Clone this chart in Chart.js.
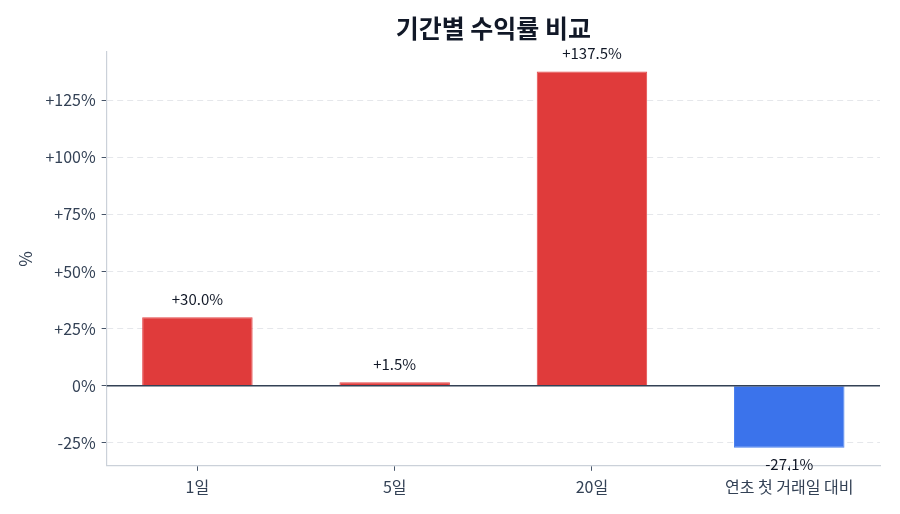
<!DOCTYPE html>
<html>
<head>
<meta charset="utf-8">
<script src="https://cdn.jsdelivr.net/npm/chart.js@4"></script>
<style>
  html, body { margin: 0; padding: 0; background: #fff; }
  .wrap { width: 900px; height: 514px; }
</style>
</head>
<body>
<div class="wrap"><canvas id="returnChart" width="900" height="514"></canvas></div>
<script>
const categories = ['1일', '5일', '20일', '연초 첫 거래일 대비'];
const returns = [30.0, 1.5, 137.5, -27.1];
const yTicks = [-25, 0, 25, 50, 75, 100, 125];

const FONT = "'Noto Sans CJK KR', 'Noto Sans', sans-serif";
const TEXT = '#334155';

const fmt = v => (v > 0 ? '+' : '') + v.toFixed(1) + '%';

// title centred over the plot area, not the whole canvas
const plotTitle = {
  id: 'plotTitle',
  afterDraw(chart) {
    const { ctx, chartArea } = chart;
    ctx.save();
    ctx.font = 'bold 25px ' + FONT;
    ctx.fillStyle = '#111827';
    ctx.textAlign = 'center';
    ctx.textBaseline = 'middle';
    ctx.fillText('기간별 수익률 비교', (chartArea.left + chartArea.right) / 2, 28);
    ctx.restore();
  }
};

// value labels above / below each bar
const barLabels = {
  id: 'barLabels',
  afterDatasetsDraw(chart) {
    const ctx = chart.ctx;
    const meta = chart.getDatasetMeta(0);
    ctx.save();
    ctx.font = '15px ' + FONT;
    ctx.fillStyle = '#111827';
    ctx.textAlign = 'center';
    ctx.textBaseline = 'middle';
    meta.data.forEach((bar, i) => {
      const v = returns[i];
      const y = v >= 0 ? bar.y - 18 : bar.y + 17;
      ctx.fillText(fmt(v), bar.x, y);
    });
    ctx.restore();
  }
};

// solid line at zero
const zeroLine = {
  id: 'zeroLine',
  afterDatasetsDraw(chart) {
    const { ctx, chartArea, scales } = chart;
    const y = scales.y.getPixelForValue(0);
    ctx.save();
    ctx.strokeStyle = '#334155';
    ctx.lineWidth = 1.5;
    ctx.beginPath();
    ctx.moveTo(chartArea.left, y);
    ctx.lineTo(chartArea.right, y);
    ctx.stroke();
    ctx.restore();
  }
};

new Chart(document.getElementById('returnChart').getContext('2d'), {
  type: 'bar',
  data: {
    datasets: [{
      data: returns.map((v, i) => ({ x: i, y: v })),
      backgroundColor: returns.map(v => v >= 0 ? '#e03b3b' : '#3b73eb'),
      borderColor: returns.map(v => v >= 0 ? '#e5484a' : '#4a80ee'),
      borderWidth: 1,
      barPercentage: 0.56,
      categoryPercentage: 1
    }]
  },
  options: {
    responsive: false,
    animation: false,
    layout: { padding: { left: 5, right: 20, top: 52, bottom: 10 } },
    plugins: {
      legend: { display: false },
      tooltip: { enabled: false },
      title: { display: false }
    },
    scales: {
      x: {
        type: 'linear',
        offset: false,
        min: -0.46,
        max: 3.46,
        afterBuildTicks: scale => { scale.ticks = categories.map((c, i) => ({ value: i })); },
        grid: { display: true, offset: false, drawOnChartArea: false, drawTicks: true, tickLength: 5, tickColor: '#475569' },
        border: { display: true, color: '#cbd1d9', width: 1.2 },
        ticks: {
          color: TEXT,
          font: { family: FONT, size: 16 },
          padding: 7,
          maxRotation: 0,
          autoSkip: false,
          callback: v => categories[v]
        }
      },
      y: {
        min: -35,
        max: 146,
        afterBuildTicks: scale => { scale.ticks = yTicks.map(v => ({ value: v })); },
        grid: {
          color: ctx => ctx.tick && ctx.tick.value === 0 ? 'rgba(0,0,0,0)' : '#e5e7eb',
          lineWidth: 1,
          drawTicks: true,
          tickLength: 5,
          tickColor: '#475569'
        },
        border: { display: true, color: '#cbd1d9', width: 1.2, dash: [6, 4] },
        ticks: {
          color: TEXT,
          font: { family: FONT, size: 16 },
          padding: 6,
          callback: v => (v > 0 ? '+' : '') + v + '%'
        },
        title: {
          display: true,
          text: '%',
          color: TEXT,
          font: { family: FONT, size: 17 },
          padding: { top: 10, bottom: 4 }
        }
      }
    }
  },
  plugins: [barLabels, zeroLine, plotTitle]
});
</script>
</body>
</html>
